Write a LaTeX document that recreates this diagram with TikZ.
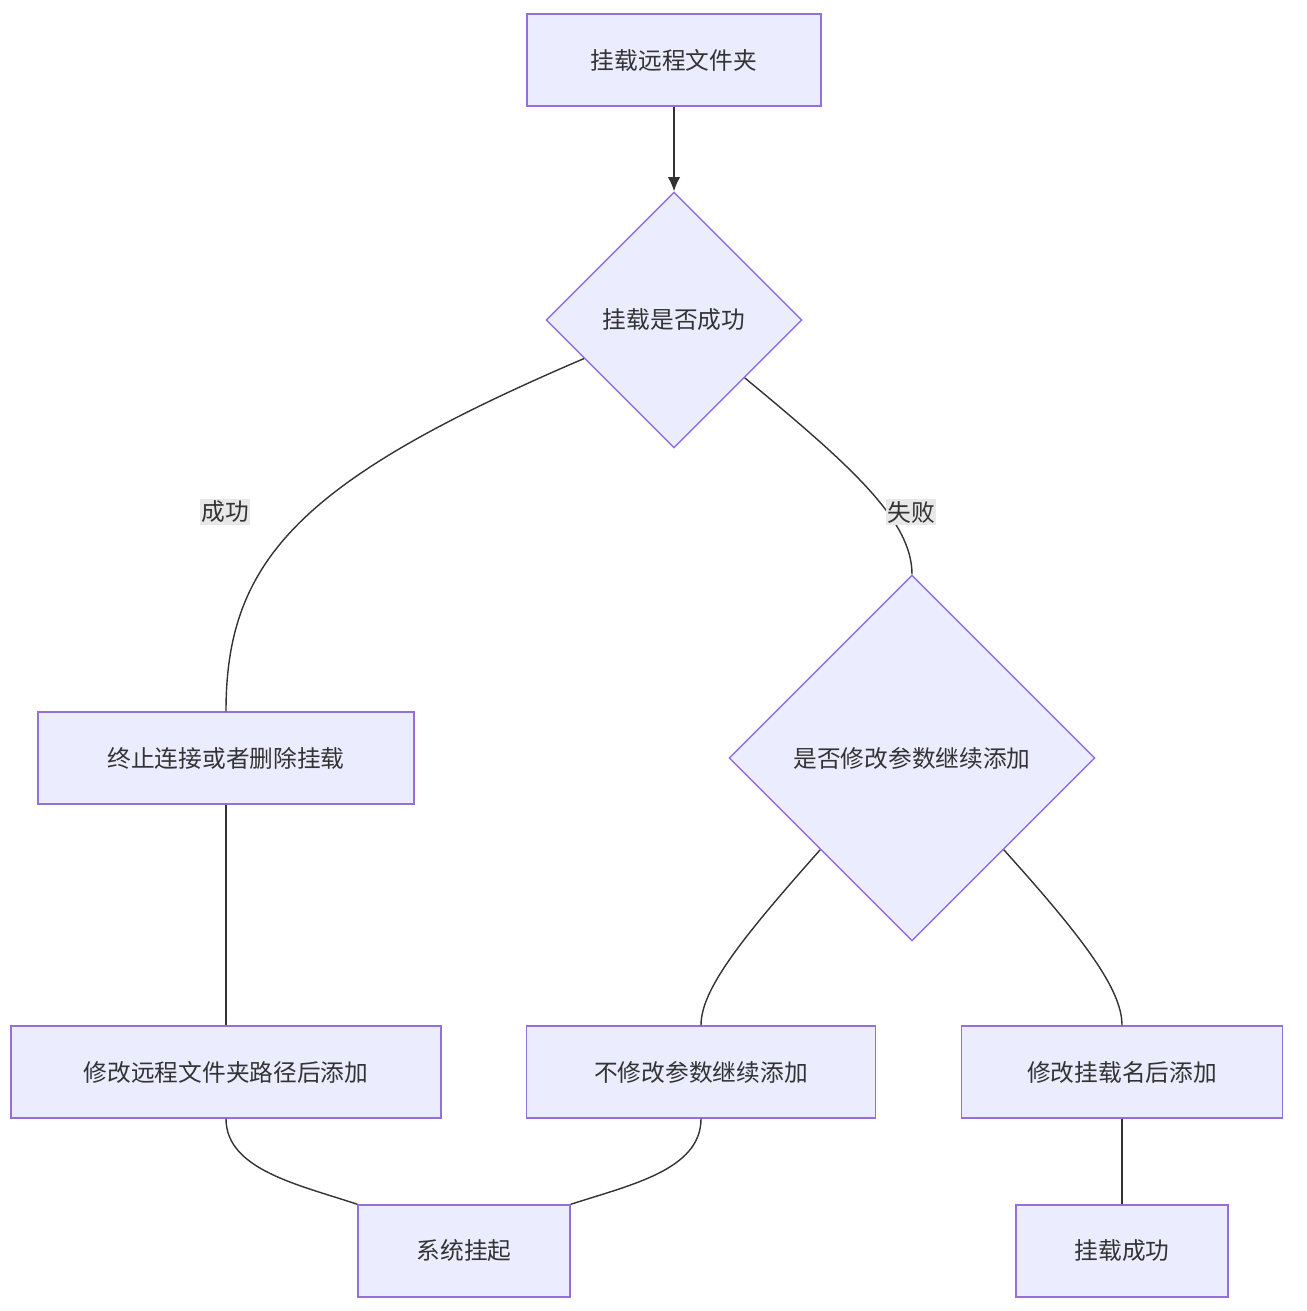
\documentclass[tikz,border=0pt]{standalone}
\usepackage{fontspec}
\newfontfamily\cjk{Noto Sans CJK SC}
\usetikzlibrary{shapes.geometric,arrows.meta,calc}
\definecolor{boxfill}{HTML}{ECECFF}
\definecolor{boxline}{HTML}{9370DB}
\definecolor{edge}{HTML}{333333}
\definecolor{lblbg}{HTML}{E8E8E8}
\begin{document}
\begin{tikzpicture}[x=0.02cm,y=-0.02cm,
    font=\cjk\fontsize{13.5}{16}\selectfont,
    box/.style={draw=boxline,fill=boxfill,thick,text=edge,minimum height=1.84cm,inner sep=0},
    dia/.style={draw=boxline,fill=boxfill,thick,diamond,aspect=1,inner sep=0,text=edge},
    lbl/.style={fill=lblbg,text=edge,inner sep=1pt},
    arr/.style={draw=edge,thick,-{Latex[length=8pt,width=7pt]}},
    con/.style={draw=edge,thick}]
  \useasboundingbox (0,0) rectangle (1306,1311);

  \node[box,minimum width=5.88cm] (mount) at (674,60) {挂载远程文件夹};
  \node[dia,minimum width=5.12cm,minimum height=5.12cm] (ok) at (674,320) {挂载是否成功};
  \node[box,minimum width=7.52cm] (stop) at (226,758) {终止连接或者删除挂载};
  \node[dia,minimum width=7.32cm,minimum height=7.32cm] (retry) at (912,758) {是否修改参数继续添加};
  \node[box,minimum width=8.6cm] (path) at (226,1072) {修改远程文件夹路径后添加};
  \node[box,minimum width=6.98cm] (keep) at (701,1072) {不修改参数继续添加};
  \node[box,minimum width=6.42cm] (rename) at (1122,1072) {修改挂载名后添加};
  \node[box,minimum width=4.24cm] (hang) at (464,1251) {系统挂起};
  \node[box,minimum width=4.24cm] (done) at (1122,1251) {挂载成功};

  \draw[arr] (mount) -- (ok);
  \draw[con] ($(ok.west)!0.3!(ok.south)$) .. controls (300,480) and (226,560) .. (stop.north);
  \draw[con] ($(ok.east)!0.45!(ok.south)$) .. controls (850,465) and (912,520) .. (retry.north);
  \node[lbl] (yes) at (225,512) {成功};
  \node[lbl] (no) at (911,512) {失败};
  \draw[con] (stop) -- (path);
  \draw[con] ($(retry.west)!0.5!(retry.south)$) .. controls (740,940) and (701,990) .. (keep.north);
  \draw[con] ($(retry.east)!0.5!(retry.south)$) .. controls (1085,940) and (1122,990) .. (rename.north);
  \draw[con] (path.south) .. controls (226,1170) and (300,1185) .. (hang.north west);
  \draw[con] (keep.south) .. controls (701,1170) and (630,1185) .. (hang.north east);
  \draw[con] (rename) -- (done);
\end{tikzpicture}
\end{document}
